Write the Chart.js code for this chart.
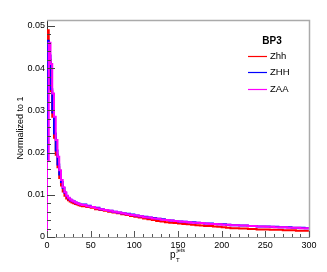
<!DOCTYPE html>
<html>
<head>
<meta charset="utf-8">
<script src="https://cdn.jsdelivr.net/npm/chart.js@4.4.0/dist/chart.umd.min.js"></script>
<style>
html,body{margin:0;padding:0;background:#fff;}
#wrap{width:327px;height:272px;position:relative;}
</style>
</head>
<body>
<div id="wrap"><canvas id="c" width="327" height="272"></canvas></div>
<script>
// Bin edges (GeV): 2 GeV bins up to 40, then 5 GeV bins up to 300
const binEdges = [0,2,4,6,8,10,12,14,16,18,20,22,24,26,28,30,32,34,36,38,40,
  45,50,55,60,65,70,75,80,85,90,95,100,105,110,115,120,125,130,135,140,145,150,
  155,160,165,170,175,180,185,190,195,200,205,210,215,220,225,230,235,240,245,250,
  255,260,265,270,275,280,285,290,295,300];

const seriesNames = ['Zhh','ZHH','ZAA'];
const legendTitle = 'BP3';

const valuesZhh = [0.0490,0.0420,0.0345,0.0285,0.0235,0.0195,0.0165,0.0140,0.0122,0.0108,
  0.0098,0.0091,0.0087,0.0084,0.0082,0.0080,0.0078,0.0077,0.0075,0.0074,
  0.0073,0.0071,0.0069,0.0066,0.0064,0.0062,0.0060,0.0058,0.0056,0.0054,
  0.0052,0.0050,0.0048,0.0046,0.0044,0.0042,0.0040,0.0038,0.0037,0.0035,
  0.0034,0.0033,0.0032,0.0031,0.0030,0.0029,0.0028,0.0027,0.0026,0.0026,
  0.0025,0.0024,0.0023,0.0022,0.0021,0.0021,0.0020,0.0020,0.0019,0.0019,
  0.0018,0.0018,0.0018,0.0017,0.0017,0.0017,0.0016,0.0016,0.0016,0.0015,
  0.0015,0.0015];

const valuesZHH = [0.0465,0.0430,0.0350,0.0295,0.0245,0.0205,0.0172,0.0148,0.0130,0.0116,
  0.0105,0.0097,0.0092,0.0088,0.0086,0.0084,0.0082,0.0080,0.0079,0.0077,
  0.0077,0.0074,0.0071,0.0069,0.0066,0.0064,0.0062,0.0060,0.0058,0.0056,
  0.0055,0.0053,0.0051,0.0049,0.0048,0.0046,0.0045,0.0043,0.0042,0.0040,
  0.0039,0.0038,0.0037,0.0036,0.0035,0.0035,0.0034,0.0033,0.0032,0.0032,
  0.0031,0.0030,0.0030,0.0029,0.0028,0.0028,0.0027,0.0027,0.0026,0.0026,
  0.0025,0.0025,0.0025,0.0024,0.0024,0.0023,0.0023,0.0023,0.0022,0.0022,
  0.0022,0.0021];

const valuesZAA = [0.0180,0.0460,0.0410,0.0340,0.0285,0.0230,0.0190,0.0158,0.0135,0.0118,
  0.0106,0.0098,0.0093,0.0089,0.0086,0.0084,0.0082,0.0080,0.0078,0.0077,
  0.0076,0.0073,0.0071,0.0068,0.0066,0.0064,0.0062,0.0060,0.0058,0.0056,
  0.0054,0.0052,0.0051,0.0049,0.0047,0.0046,0.0044,0.0043,0.0041,0.0040,
  0.0039,0.0038,0.0037,0.0036,0.0035,0.0034,0.0034,0.0033,0.0032,0.0031,
  0.0031,0.0030,0.0029,0.0029,0.0028,0.0028,0.0027,0.0027,0.0026,0.0026,
  0.0025,0.0025,0.0024,0.0024,0.0023,0.0023,0.0023,0.0022,0.0022,0.0022,
  0.0021,0.0021];

const xTickValues = [0,50,100,150,200,250,300];
const xMinorStep = 10;
const yTickValues = [0,0.01,0.02,0.03,0.04,0.05];
const yTickLabels = ['0','0.01','0.02','0.03','0.04','0.05'];
const yMinorStep = 0.002;
const xRange = [0,300];
const yRange = [0,0.0514];

const colors = ['#ff0000','#0000ff','#ff00ff'];
const FONT = '"Liberation Sans", Arial, Helvetica, sans-serif';

function histPoints(edges, vals){
  const pts = [{x:edges[0], y:0}];
  for (let i=0;i<vals.length;i++) pts.push({x:edges[i], y:vals[i]});
  pts.push({x:edges[edges.length-1], y:vals[vals.length-1]});
  return pts;
}

const allVals = [valuesZhh, valuesZHH, valuesZAA];
const datasets = allVals.map((v,i)=>({
  label: seriesNames[i],
  data: histPoints(binEdges, v),
  borderColor: colors[i],
  backgroundColor: colors[i],
  borderWidth: 2,
  pointRadius: 0,
  stepped: 'before',
  fill: false,
  order: 2-i
}));

const decor = {
  id:'decor',
  afterDraw(chart){
    const ctx = chart.ctx;
    const a = chart.chartArea;
    const xs = chart.scales.x, ys = chart.scales.y;
    ctx.save();
    // frame top / right
    ctx.strokeStyle = '#aaaaaa';
    ctx.lineWidth = 1.5;
    ctx.beginPath();
    ctx.moveTo(a.left, a.top+0.5); ctx.lineTo(a.right+0.5, a.top+0.5); ctx.lineTo(a.right+0.5, a.bottom);
    ctx.stroke();
    // y ticks inside
    ctx.lineWidth = 1;
    ctx.strokeStyle = '#444';
    for (let v=0; v<=yRange[1]+1e-9; v+=yMinorStep){
      const y = Math.round(ys.getPixelForValue(v))+0.5;
      const major = yTickValues.some(t=>Math.abs(t-v)<1e-7);
      ctx.beginPath(); ctx.moveTo(a.left, y); ctx.lineTo(a.left+(major?8:4), y); ctx.stroke();
    }
    // x ticks inside
    ctx.strokeStyle = '#555';
    for (let v=xRange[0]; v<=xRange[1]; v+=xMinorStep){
      const x = Math.round(xs.getPixelForValue(v))+0.5;
      const major = xTickValues.includes(v);
      ctx.beginPath(); ctx.moveTo(x, a.bottom); ctx.lineTo(x, a.bottom-(major?6:3)); ctx.stroke();
    }
    // y title
    ctx.fillStyle = '#000';
    ctx.font = '9px '+FONT;
    ctx.translate(21, 128);
    ctx.rotate(-Math.PI/2);
    ctx.textAlign='center'; ctx.textBaseline='middle';
    ctx.fillText('Normalized to 1', 0, 0);
    ctx.setTransform(1,0,0,1,0,0);
    // x title p_T^{jets}
    ctx.textAlign='left'; ctx.textBaseline='alphabetic';
    ctx.font = '10px '+FONT;
    ctx.fillText('p', 170, 258);
    ctx.font = '6px '+FONT;
    ctx.fillText('T', 176, 261.5);
    ctx.font = '5.5px '+FONT;
    ctx.fillText('jets', 176.5, 252);
    // legend
    ctx.font = 'bold 10px '+FONT;
    ctx.textAlign='center'; ctx.textBaseline='middle';
    ctx.fillText(legendTitle, 272, 41);
    const ly = [56.5, 72.5, 89.5];
    ctx.font = '9.5px '+FONT;
    ctx.textAlign='left';
    for (let i=0;i<3;i++){
      ctx.strokeStyle = colors[i];
      ctx.lineWidth = 1.2;
      ctx.beginPath(); ctx.moveTo(248, ly[i]); ctx.lineTo(267, ly[i]); ctx.stroke();
      ctx.fillStyle = '#000';
      ctx.fillText(seriesNames[i], 270, ly[i]);
    }
    ctx.restore();
  }
};

new Chart(document.getElementById('c'), {
  type:'line',
  data:{datasets},
  options:{
    responsive:false,
    animation:false,
    devicePixelRatio:1,
    parsing:true,
    layout:{padding:{left:0, top:20, right:18, bottom:0}},
    plugins:{legend:{display:false}, tooltip:{enabled:false}},
    scales:{
      x:{
        type:'linear', min:xRange[0], max:xRange[1],
        grid:{display:false, drawTicks:false},
        border:{display:true, color:'#999', width:1},
        afterBuildTicks(s){ s.ticks = xTickValues.map(v=>({value:v})); },
        afterFit(s){ s.height = 35; },
        ticks:{color:'#000', font:{family:FONT, size:9}, padding:3, maxRotation:0, autoSkip:false,
          callback:(v)=>String(v)}
      },
      y:{
        type:'linear', min:yRange[0], max:yRange[1],
        grid:{display:false, drawTicks:false},
        border:{display:true, color:'#333', width:1},
        afterBuildTicks(s){ s.ticks = yTickValues.map(v=>({value:v})); },
        afterFit(s){ s.width = 47; },
        ticks:{color:'#000', font:{family:FONT, size:9}, padding:2, autoSkip:false,
          callback:(v)=>{ const i = yTickValues.findIndex(t=>Math.abs(t-v)<1e-9); return i>=0?yTickLabels[i]:''; }}
      }
    }
  },
  plugins:[decor]
});
</script>
</body>
</html>
